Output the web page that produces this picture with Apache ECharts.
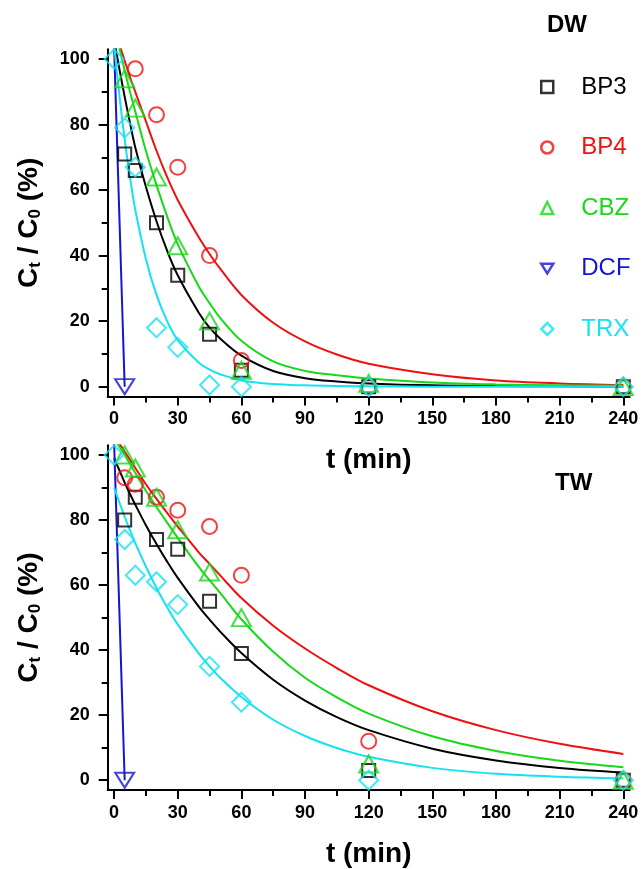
<!DOCTYPE html>
<html>
<head>
<meta charset="utf-8">
<script src="https://cdn.jsdelivr.net/npm/echarts@6/dist/echarts.min.js"></script>
<style>
html,body{margin:0;padding:0;background:#fff;}
#chart{width:643px;height:869px;}
</style>
</head>
<body>
<div id="chart"></div>
<script>
// ---------- tick labels ----------
const xMajorTicks = [0, 30, 60, 90, 120, 150, 180, 210, 240];
const xMinorTicks = [15, 45, 75, 105, 135, 165, 195, 225];
const yMajorTicks = [0, 20, 40, 60, 80, 100];
const yMinorTicks = [10, 30, 50, 70, 90];
const compounds = ['BP3', 'BP4', 'CBZ', 'DCF', 'TRX'];
const panelLabels = ['DW', 'TW'];

// ---------- measured points: DW (top) ----------
const dwBP3 = [[5,71],[10,66],[20,50],[30,34],[45,16],[60,5],[120,0],[240,0]];
const dwBP4 = [[10,97],[20,83],[30,67],[45,40],[60,8],[120,0],[240,0]];
const dwCBZ = [[5,94],[10,85],[20,64],[30,43],[45,20],[60,5],[120,1],[240,0]];
const dwDCF = [[5,0]];
const dwTRX = [[0,100],[5,79],[10,67],[20,18],[30,12],[45,0.5],[60,0],[120,0],[240,0]];

// ---------- measured points: TW (bottom) ----------
const twBP3 = [[5,80],[10,87],[20,74],[30,71],[45,55],[60,39],[120,3],[240,0]];
const twBP4 = [[5,93],[10,91],[20,87],[30,83],[45,78],[60,63],[120,12],[240,0]];
const twCBZ = [[5,100],[10,96],[20,87],[30,77],[45,64],[60,50],[120,5],[240,0]];
const twDCF = [[5,0]];
const twTRX = [[0,100],[5,74],[10,63],[20,61],[30,54],[45,35],[60,24],[120,0],[240,0]];

// ---------- fitted curves ----------
const fitT = [0,2.5,5,7.5,10,15,20,25,30,40,45,50,60,75,90,105,120,150,180,210,240];
const dwFitBP3 = [106,97,88.5,80.5,73,61,50.5,41.5,34,22.5,18,14.7,9.5,4.8,2.6,1.6,1,0.4,0.2,0.1,0];
const dwFitBP4 = [110,104.5,99.5,94.5,90,81,72,64,57,45.5,40.5,36,28,19.5,13.8,9.8,7,3.8,1.9,1,0.5];
const dwFitCBZ = [111,103.5,96.5,90,84,72,61.5,52,43.5,30.5,25.5,21,14,7.7,4.8,3.5,2.5,1.3,0.7,0.4,0.3];
const dwFitTRX = [104.5,89,75.5,64,54,39,28,20,14.2,7.3,5.2,3.8,1.9,0.8,0.4,0.2,0.1,0,0,0,0];
const dwFitDCF = [[0,104],[5,0]];

const twFitBP3 = [99,95.3,91.5,88,84.7,78.4,72.6,67.2,62.2,53.3,49.4,45.7,39.1,30.9,24.5,19.4,15.4,9.7,6.1,3.8,2.4];
const twFitBP4 = [106,103.5,101,98.5,96,91,86.5,82.2,78,70,66.5,63,56,47.5,40.5,34.5,29.2,21.2,15.4,11.2,8.1];
const twFitCBZ = [105,102.5,100,97.2,94.5,89,84,79.2,74.5,65.5,61.5,57.6,49.5,39.5,31.5,25.5,20.5,13.5,9,6,4];
const twFitTRX = [90,85.4,81,76.8,72.9,65.7,59.1,53.2,47.9,38.9,35,31.5,25.6,18.6,13.6,9.9,7.2,3.8,2.0,1.1,0.6];
const twFitDCF = [[0,104],[5,0]];

// ---------- styles ----------
const FONT = 'Liberation Sans, Arial, sans-serif';
const colors = {BP3:'#000000', BP4:'#f01010', CBZ:'#18d818', DCF:'#1515d0', TRX:'#14e2f2'};
const downTri = 'path://M0,0 L20,0 L10,16 Z';
const symbols = {BP3:'rect', BP4:'circle', CBZ:'triangle', DCF:downTri, TRX:'diamond'};
const sizes = {BP3:[13,13], BP4:[15,15], CBZ:[19,17], DCF:[19,15], TRX:[19,19]};

function pairs(ts, vs){ return ts.map((t,i)=>[t, vs[i]]); }

const gridDefs = [
  {left:107.7, top:49.2, width:522, height:347.3},
  {left:107.7, top:445.2, width:522, height:347.3}
];

const xAxes = [], yAxes = [];
gridDefs.forEach((g, gi) => {
  xAxes.push({
    gridIndex: gi, type:'value', min:-3, max:243,
    axisLine:{show:true, onZero:false, lineStyle:{color:'#000', width:2}},
    axisTick:{show:true, customValues:xMajorTicks, length:9, lineStyle:{color:'#000', width:2}},
    axisLabel:{show:true, customValues:xMajorTicks, fontSize:18, fontWeight:'bold', color:'#000', fontFamily:FONT, margin:14},
    splitLine:{show:false},
    name:'t (min)', nameLocation:'middle', nameGap:50,
    nameTextStyle:{fontSize:28, fontWeight:'bold', color:'#000', fontFamily:FONT}
  });
  xAxes.push({
    gridIndex: gi, type:'value', min:-3, max:243, position:'bottom',
    axisLine:{show:false, onZero:false},
    axisTick:{show:true, customValues:xMinorTicks, length:6, lineStyle:{color:'#000', width:2}},
    axisLabel:{show:false}, splitLine:{show:false}
  });
  yAxes.push({
    gridIndex: gi, type:'value', min:-3, max:103,
    axisLine:{show:true, onZero:false, lineStyle:{color:'#000', width:2}},
    axisTick:{show:true, customValues:yMajorTicks, length:9, lineStyle:{color:'#000', width:2}},
    axisLabel:{show:true, customValues:yMajorTicks, fontSize:18, fontWeight:'bold', color:'#000', fontFamily:FONT, margin:18},
    splitLine:{show:false},
    name:'{b|C}{s|t}{b| / C}{s|0}{b| (%)}', nameLocation:'middle', nameGap:64, nameRotate:90,
    nameTextStyle:{
      color:'#000', fontFamily:FONT,
      rich:{
        b:{fontSize:28, fontWeight:'bold', lineHeight:28, verticalAlign:'top', fontFamily:FONT, color:'#000'},
        s:{fontSize:17, fontWeight:'bold', lineHeight:17, padding:[15,0,0,0], verticalAlign:'bottom', fontFamily:FONT, color:'#000'}
      }
    }
  });
  yAxes.push({
    gridIndex: gi, type:'value', min:-3, max:103, position:'left',
    axisLine:{show:false, onZero:false},
    axisTick:{show:true, customValues:yMinorTicks, length:6, lineStyle:{color:'#000', width:2}},
    axisLabel:{show:false}, splitLine:{show:false}
  });
});

const panels = [
  {pts:{BP3:dwBP3, BP4:dwBP4, CBZ:dwCBZ, DCF:dwDCF, TRX:dwTRX},
   fit:{BP3:pairs(fitT,dwFitBP3), BP4:pairs(fitT,dwFitBP4), CBZ:pairs(fitT,dwFitCBZ), DCF:dwFitDCF, TRX:pairs(fitT,dwFitTRX)}},
  {pts:{BP3:twBP3, BP4:twBP4, CBZ:twCBZ, DCF:twDCF, TRX:twTRX},
   fit:{BP3:pairs(fitT,twFitBP3), BP4:pairs(fitT,twFitBP4), CBZ:pairs(fitT,twFitCBZ), DCF:twFitDCF, TRX:pairs(fitT,twFitTRX)}}
];

const series = [];
panels.forEach((p, pi) => {
  const xi = pi*2, yi = pi*2;
  compounds.forEach(c => {
    series.push({
      name: c + ' fit ' + panelLabels[pi], type:'line', xAxisIndex:xi, yAxisIndex:yi,
      data: p.fit[c], smooth:0.35, showSymbol:false, symbol:'none', clip:true,
      lineStyle:{color:colors[c], width:2}, z:2, silent:true
    });
  });
  compounds.forEach(c => {
    series.push({
      name: c, type:'scatter', xAxisIndex:xi, yAxisIndex:yi,
      data: p.pts[c], symbol:symbols[c], symbolSize:sizes[c], clip:false,
      itemStyle:{color:'rgba(255,255,255,0)', borderColor:colors[c], borderWidth:2}, z:3
    });
  });
});

const chart = echarts.init(document.getElementById('chart'), null, {renderer:'canvas'});
chart.setOption({
  animation:false,
  backgroundColor:'#fff',
  grid: gridDefs.map(g => Object.assign({containLabel:false}, g)),
  xAxis: xAxes,
  yAxis: yAxes,
  legend:{
    orient:'vertical', left:535, top:70, itemWidth:12, itemHeight:12, itemGap:36.5,
    selectedMode:false,
    textStyle:{fontSize:24, lineHeight:24, fontFamily:FONT, padding:[0,0,0,23]},
    data: compounds.map(c => ({
      name:c,
      icon: symbols[c],
      itemStyle:{color:'rgba(255,255,255,0)', borderColor:colors[c], borderWidth:2.5},
      textStyle:{color:colors[c]}
    }))
  },
  graphic:[
    {type:'text', left:547, top:13, style:{text:panelLabels[0], font:'bold 24px ' + FONT, fill:'#000'}},
    {type:'text', left:555, top:471, style:{text:panelLabels[1], font:'bold 24px ' + FONT, fill:'#000'}}
  ],
  series: series
});
</script>
</body>
</html>
